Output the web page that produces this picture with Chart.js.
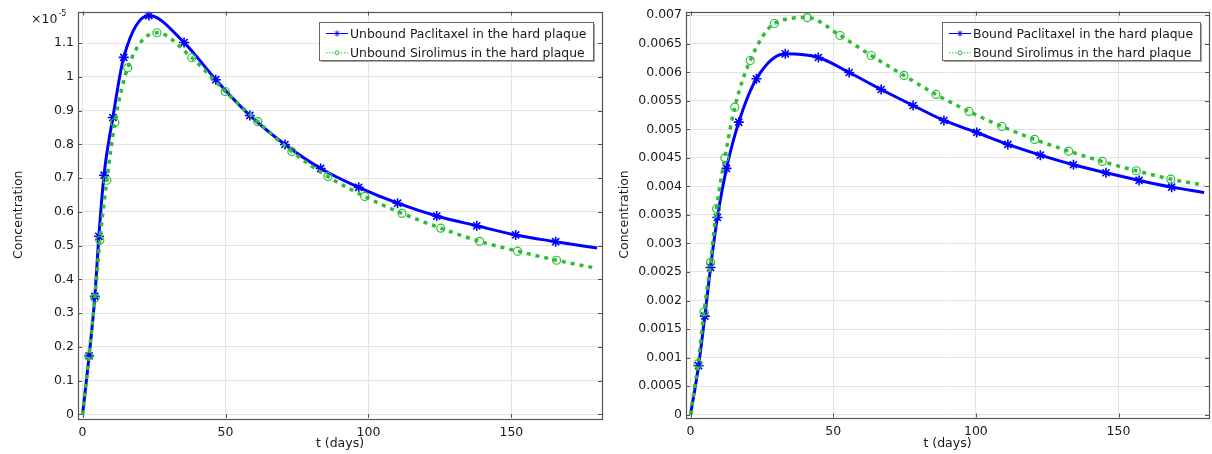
<!DOCTYPE html>
<html>
<head>
<meta charset="utf-8">
<script src="https://cdn.jsdelivr.net/npm/chart.js@4.4.1/dist/chart.umd.min.js"></script>
<style>
  html, body { margin: 0; padding: 0; background: #fff; }
  #wrap { position: relative; width: 1212px; height: 454px; }
  .panel { position: absolute; top: 0; width: 606px; height: 454px; }
</style>
</head>
<body>
<div id="wrap">
  <div class="panel" style="left:0"><canvas id="unbound"></canvas></div>
  <div class="panel" style="left:606px"><canvas id="bound"></canvas></div>
</div>
<script>
// Unbound drug in the hard plaque, concentration in units of 1e-5
const unboundPacT = [0, 2.3, 4.3, 5.7, 7.5, 10.6, 14.4, 23.2, 35.5, 46.6, 58.5, 70.8, 83.3, 96.6, 110.2, 123.9, 137.9, 151.5, 165.5, 180];
const unboundPacC = [0, 0.174, 0.35, 0.528, 0.709, 0.88, 1.058, 1.182, 1.102, 0.992, 0.886, 0.80, 0.729, 0.673, 0.626, 0.588, 0.559, 0.532, 0.512, 0.493];
const unboundSirT = [0, 2.2, 4.3, 6.05, 8.5, 11.3, 15.8, 26.0, 38.2, 49.9, 61.3, 73.2, 85.8, 98.7, 111.7, 125.3, 138.9, 152.2, 165.8, 180];
const unboundSirC = [0, 0.173, 0.345, 0.516, 0.694, 0.865, 1.027, 1.131, 1.057, 0.957, 0.868, 0.779, 0.705, 0.646, 0.596, 0.552, 0.513, 0.484, 0.457, 0.433];

// Bound drug in the hard plaque
const boundPacT = [0, 2.8, 5.0, 7.0, 9.4, 12.6, 16.9, 23.1, 33.2, 44.8, 55.6, 66.8, 78, 88.8, 100.3, 111.2, 122.6, 134.2, 145.6, 157.2, 168.6, 180];
const boundPacC = [0, 0.000858, 0.001727, 0.00258, 0.003456, 0.004315, 0.005126, 0.005886, 0.006324, 0.006259, 0.005996, 0.005698, 0.005418, 0.005155, 0.004945, 0.004735, 0.004548, 0.004379, 0.004239, 0.004104, 0.003987, 0.003894];
const boundSirT = [0, 2.6, 4.7, 7.0, 9.1, 12.0, 15.5, 20.9, 29.4, 40.9, 52.4, 63.3, 74.8, 86, 97.6, 109.1, 120.6, 132.5, 144.3, 156.2, 168.3, 180];
const boundSirC = [0, 0.00089, 0.0018, 0.00267, 0.00361, 0.0045, 0.005388, 0.006206, 0.006855, 0.006959, 0.006644, 0.006294, 0.005944, 0.005611, 0.005313, 0.00505, 0.004823, 0.004618, 0.004437, 0.004274, 0.004127, 0.004022];

// Axis ticks
const timeTicks = [0, 50, 100, 150];
const unboundTicks = [0, 0.1, 0.2, 0.3, 0.4, 0.5, 0.6, 0.7, 0.8, 0.9, 1, 1.1];
const boundTicks = [0, 0.0005, 0.001, 0.0015, 0.002, 0.0025, 0.003, 0.0035, 0.004, 0.0045, 0.005, 0.0055, 0.006, 0.0065, 0.007];
const unboundExponent = '-5';

const unboundLabels = ['Unbound Paclitaxel in the hard plaque', 'Unbound Sirolimus in the hard plaque'];
const boundLabels = ['Bound Paclitaxel in the hard plaque', 'Bound Sirolimus in the hard plaque'];

const FONT_FAMILY = '"DejaVu Sans", sans-serif';
const TEXT = '#1a1a1a';
const FRAME = '#555';
const GRID = '#e4e4e4';
const BLUE = '#0000ff';
const GREEN = 'rgb(45,190,55)';

function toPoints(t, c) { return t.map((x, i) => ({ x: x, y: c[i] })); }

function lineDataset(label, t, c, kind) {
  const n = t.length;
  const isPac = kind === 'pac';
  return {
    label: label,
    data: toPoints(t, c),
    borderColor: isPac ? BLUE : GREEN,
    borderWidth: isPac ? 3 : 3.5,
    borderDash: isPac ? [] : [4, 5],
    cubicInterpolationMode: 'monotone',
    fill: false,
    order: isPac ? 1 : 0,
    pointStyle: isPac ? 'star' : 'circle',
    pointRadius: ctx => (ctx.dataIndex === 0 || ctx.dataIndex === n - 1) ? 0 : (isPac ? 5 : 4),
    pointHoverRadius: 0,
    pointBorderColor: isPac ? BLUE : GREEN,
    pointBackgroundColor: 'rgba(255,255,255,0)',
    pointBorderWidth: isPac ? 1.6 : 1.2
  };
}

function fmt(v) { return String(Number(v.toPrecision(6))); }

// Frame around the plot with short inward ticks on all four sides
const framePlugin = {
  id: 'frame',
  afterDatasetsDraw(chart) {
    const { ctx, chartArea: a, scales } = chart;
    ctx.save();
    ctx.strokeStyle = FRAME;
    ctx.lineWidth = 1;
    ctx.beginPath();
    scales.x.ticks.forEach(tk => {
      const px = Math.round(scales.x.getPixelForValue(tk.value)) + 0.5;
      ctx.moveTo(px, a.bottom); ctx.lineTo(px, a.bottom - 4);
      ctx.moveTo(px, a.top); ctx.lineTo(px, a.top + 4);
    });
    scales.y.ticks.forEach(tk => {
      const py = Math.round(scales.y.getPixelForValue(tk.value)) + 0.5;
      ctx.moveTo(a.left, py); ctx.lineTo(a.left + 4, py);
      ctx.moveTo(a.right, py); ctx.lineTo(a.right - 4, py);
    });
    ctx.stroke();
    ctx.lineWidth = 1.2;
    ctx.strokeRect(Math.round(a.left) + 0.5, Math.round(a.top) + 0.5, Math.round(a.right - a.left), Math.round(a.bottom - a.top));
    ctx.restore();
  }
};

// Boxed legend in the upper right corner of the plot
const boxLegendPlugin = {
  id: 'boxLegend',
  afterDraw(chart) {
    const { ctx, chartArea: a } = chart;
    const items = chart.data.datasets;
    ctx.save();
    ctx.font = '12.4px ' + FONT_FAMILY;
    const textW = Math.max(...items.map(d => ctx.measureText(d.label).width));
    const padL = 7, sample = 22, gap = 2, padR = 7;
    const w = Math.round(padL + sample + gap + textW + padR);
    const h = 38;
    const x = Math.round(a.right - 9 - w);
    const y = Math.round(a.top + 10.5);
    ctx.fillStyle = '#a8a8a8';
    ctx.fillRect(x + 2, y + 2, w, h);
    ctx.fillStyle = '#fff';
    ctx.fillRect(x, y, w, h);
    ctx.strokeStyle = '#666';
    ctx.lineWidth = 1;
    ctx.strokeRect(x + 0.5, y + 0.5, w, h);
    items.forEach((d, i) => {
      const base = y + 15.5 + i * 19.3;
      const cy = base - 4;
      ctx.strokeStyle = d.borderColor;
      ctx.lineWidth = 1;
      ctx.setLineDash(d.borderDash.length ? [1.5, 1.5] : []);
      ctx.beginPath();
      ctx.moveTo(x + padL, cy);
      ctx.lineTo(x + padL + sample, cy);
      ctx.stroke();
      ctx.setLineDash([]);
      ctx.strokeStyle = d.pointBorderColor;
      ctx.fillStyle = d.pointStyle === 'star' ? d.borderColor : '#fff';
      ctx.lineWidth = 1;
      Chart.helpers.drawPoint(ctx, { pointStyle: d.pointStyle, radius: d.pointStyle === 'star' ? 3 : 2, borderWidth: 1, rotation: 0 }, x + padL + sample / 2, cy);
      ctx.fillStyle = TEXT;
      ctx.textBaseline = 'alphabetic';
      ctx.textAlign = 'left';
      ctx.fillText(d.label, x + padL + sample + gap, base);
    });
    ctx.restore();
  }
};

// Power-of-ten factor above the y axis
const exponentPlugin = {
  id: 'exponent',
  afterDraw(chart, args, opts) {
    if (!opts || !opts.text) return;
    const { ctx } = chart;
    ctx.save();
    ctx.fillStyle = TEXT;
    ctx.textBaseline = 'alphabetic';
    ctx.textAlign = 'left';
    ctx.font = '12.5px ' + FONT_FAMILY;
    const x0 = 31, base = 23;
    ctx.fillText('\u00d710', x0, base);
    const w = ctx.measureText('\u00d710').width;
    ctx.font = '8px ' + FONT_FAMILY;
    ctx.fillText(opts.text, x0 + w + 1, base - 7);
    ctx.restore();
  }
};

function makeChart(id, datasets, yTicks, yMin, yMax, yWidth, xHeight, rightPad, exponent) {
  const font = { family: FONT_FAMILY, size: 12.5 };
  return new Chart(document.getElementById(id), {
    type: 'line',
    data: { datasets: datasets },
    options: {
      responsive: true,
      maintainAspectRatio: false,
      animation: false,
      events: [],
      layout: { padding: { left: 0, right: rightPad, top: 11, bottom: 0 } },
      plugins: {
        legend: { display: false },
        tooltip: { enabled: false },
        exponent: { text: exponent }
      },
      scales: {
        x: {
          type: 'linear',
          min: -1.6,
          max: 181.7,
          afterBuildTicks: s => { s.ticks = timeTicks.map(v => ({ value: v })); },
          afterFit: s => { s.height = xHeight; },
          grid: { color: GRID, lineWidth: 1, drawTicks: false },
          border: { display: false },
          ticks: { font: font, color: TEXT, padding: 7, maxRotation: 0, autoSkip: false, callback: v => fmt(v) },
          title: { display: true, text: 't (days)', font: font, color: TEXT, padding: { top: 0, bottom: 3 } }
        },
        y: {
          type: 'linear',
          min: yMin,
          max: yMax,
          afterBuildTicks: s => { s.ticks = yTicks.map(v => ({ value: v })); },
          afterFit: s => { s.width = yWidth; },
          grid: { color: GRID, lineWidth: 1, drawTicks: false },
          border: { display: false },
          ticks: { font: font, color: TEXT, padding: 4, autoSkip: false, callback: v => fmt(v) },
          title: { display: true, text: 'Concentration', font: font, color: TEXT, padding: { top: 11, bottom: 0 } }
        }
      }
    },
    plugins: [framePlugin, boxLegendPlugin, exponentPlugin]
  });
}

makeChart('unbound', [
  lineDataset(unboundLabels[0], unboundPacT, unboundPacC, 'pac'),
  lineDataset(unboundLabels[1], unboundSirT, unboundSirC, 'sir')
], unboundTicks, -0.0104, 1.194, 78, 36, 4, unboundExponent);

makeChart('bound', [
  lineDataset(boundLabels[0], boundPacT, boundPacC, 'pac'),
  lineDataset(boundLabels[1], boundSirT, boundSirC, 'sir')
], boundTicks, -0.00005, 0.007065, 80, 36.5, 3, '');
</script>
</body>
</html>
